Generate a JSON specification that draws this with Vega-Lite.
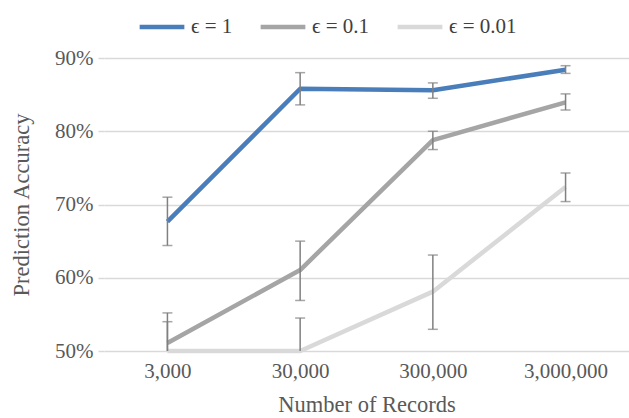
{
  "$schema": "https://vega.github.io/schema/vega-lite/v6.json",
  "autosize": "none",
  "width": 525,
  "height": 293,
  "padding": {"left": 104, "top": 58, "right": 0, "bottom": 67},
  "background": "white",
  "config": {
    "view": {"stroke": null},
    "font": "Liberation Serif",
    "axis": {"labelFont": "Liberation Serif", "titleFont": "Liberation Serif", "labelColor": "#595959", "titleColor": "#595959", "titleFontWeight": "normal"},
    "legend": {"labelFont": "Liberation Serif"}
  },
  "data": {
    "values": [
      {"records": "3,000", "eps": "ϵ = 1", "acc": 0.6765, "lo": 0.644, "hi": 0.710},
      {"records": "30,000", "eps": "ϵ = 1", "acc": 0.858, "lo": 0.836, "hi": 0.880},
      {"records": "300,000", "eps": "ϵ = 1", "acc": 0.856, "lo": 0.845, "hi": 0.866},
      {"records": "3,000,000", "eps": "ϵ = 1", "acc": 0.884, "lo": 0.879, "hi": 0.8895},
      {"records": "3,000", "eps": "ϵ = 0.1", "acc": 0.511, "lo": 0.470, "hi": 0.552},
      {"records": "30,000", "eps": "ϵ = 0.1", "acc": 0.6105, "lo": 0.569, "hi": 0.650},
      {"records": "300,000", "eps": "ϵ = 0.1", "acc": 0.788, "lo": 0.775, "hi": 0.800},
      {"records": "3,000,000", "eps": "ϵ = 0.1", "acc": 0.8395, "lo": 0.829, "hi": 0.851},
      {"records": "3,000", "eps": "ϵ = 0.01", "acc": 0.500, "lo": 0.460, "hi": 0.540},
      {"records": "30,000", "eps": "ϵ = 0.01", "acc": 0.500, "lo": 0.455, "hi": 0.545},
      {"records": "300,000", "eps": "ϵ = 0.01", "acc": 0.581, "lo": 0.5296, "hi": 0.631},
      {"records": "3,000,000", "eps": "ϵ = 0.01", "acc": 0.724, "lo": 0.704, "hi": 0.743}
    ]
  },
  "encoding": {
    "x": {
      "field": "records", "type": "ordinal",
      "sort": ["3,000", "30,000", "300,000", "3,000,000"],
      "scale": {"type": "point", "padding": 0.478},
      "axis": {"title": "Number of Records", "labelAngle": 0, "labelFontSize": 21, "titleFontSize": 22.5, "domain": false, "ticks": false, "labelPadding": 9, "titlePadding": 12, "grid": false}
    }
  },
  "layer": [
    {
      "mark": {"type": "line", "strokeWidth": 4.5, "strokeJoin": "round"},
      "encoding": {
        "y": {
          "field": "acc", "type": "quantitative",
          "scale": {"domain": [0.5, 0.9], "nice": false, "zero": false},
          "axis": {"title": "Prediction Accuracy", "format": ".0%", "values": [0.5, 0.6, 0.7, 0.8, 0.9], "labelFontSize": 21, "titleFontSize": 22.5, "domain": false, "ticks": true, "tickSize": 6, "tickColor": "#d9d9d9", "tickWidth": 1.5, "gridColor": "#d9d9d9", "gridWidth": 1.5, "labelPadding": 5, "titlePadding": 21}
        },
        "color": {
          "field": "eps", "type": "nominal",
          "scale": {"domain": ["ϵ = 1", "ϵ = 0.1", "ϵ = 0.01"], "range": ["#4a7ebb", "#a5a5a5", "#d9d9d9"]},
          "sort": ["ϵ = 1", "ϵ = 0.1", "ϵ = 0.01"],
          "legend": {"title": null, "orient": "none", "legendX": 33, "legendY": -56, "direction": "horizontal", "symbolType": "stroke", "symbolSize": 2000, "symbolStrokeWidth": 4.5, "labelFont": "Liberation Serif", "labelFontSize": 21, "labelColor": "#404040", "columnPadding": 18, "labelOffset": 4}
        }
      }
    },
    {
      "mark": {"type": "rule", "color": "#808080", "strokeWidth": 1.5, "clip": true},
      "encoding": {
        "y": {"field": "lo", "type": "quantitative"},
        "y2": {"field": "hi"},
        "detail": {"field": "eps"}
      }
    },
    {
      "mark": {"type": "tick", "color": "#808080", "thickness": 1.5, "size": 10, "clip": true},
      "encoding": {
        "y": {"field": "hi", "type": "quantitative"},
        "detail": {"field": "eps"}
      }
    },
    {
      "mark": {"type": "tick", "color": "#808080", "thickness": 1.5, "size": 10, "clip": true},
      "encoding": {
        "y": {"field": "lo", "type": "quantitative"},
        "detail": {"field": "eps"}
      }
    }
  ]
}
